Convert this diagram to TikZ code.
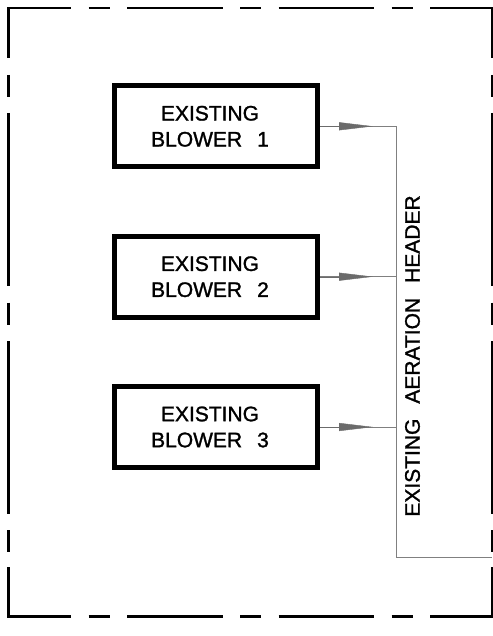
\documentclass[tikz,border=0pt]{standalone}
\usepackage{fontspec}
\newfontfamily\cadfont[FakeBold=1.3]{Liberation Sans}
\usetikzlibrary{arrows.meta}
\begin{document}
\begin{tikzpicture}[x=1pt,y=-1pt,
  frame/.style={line width=2.5pt,black},
  blower/.style={draw,line width=5pt,minimum width=202.7pt,minimum height=81pt,inner sep=0pt},
  lbl/.style={font=\cadfont\fontsize{21}{26}\selectfont,align=center,inner sep=0pt},
  pipe/.style={line width=1pt,draw=black!50},
  tip/.style={-{Triangle[length=34pt,width=8pt]},draw=black!58,fill=black!58}]
\useasboundingbox (0,0) rectangle (492,636);
% dashed frame: corners
\draw[frame] (8.3,58) -- (8.3,7.8) -- (71,7.8);
\draw[frame] (430,7.8) -- (491.8,7.8) -- (491.8,58);
\draw[frame] (8.3,567) -- (8.3,616.7) -- (71,616.7);
\draw[frame] (430,616.7) -- (491.8,616.7) -- (491.8,567);
% dashed frame: middle dashes
\foreach \yy in {7.8,616.7}
  \foreach \a/\b in {88.5/109.5,127/222.5,240/261,278.5/374,391.5/412.5}
    \draw[frame] (\a,\yy) -- (\b,\yy);
\foreach \xx in {8.3,491.8}
  \foreach \a/\b in {75/97,113/286,302.5/324.5,341/514,530/552}
    \draw[frame] (\xx,\a) -- (\xx,\b);
% blowers
\node[blower] (b1) at (216.2,126.3) {};
\node[blower] (b2) at (216.2,276.7) {};
\node[blower] (b3) at (216.2,427) {};
\node[lbl] (l1) at (210,126.3) {EXISTING\\BLOWER\hspace{15pt}1};
\node[lbl] (l2) at (210,276.7) {EXISTING\\BLOWER\hspace{15pt}2};
\node[lbl] (l3) at (210,427) {EXISTING\\BLOWER\hspace{15pt}3};
% header
\coordinate (h1) at (396.5,126.3);
\coordinate (h2) at (396.5,276.7);
\coordinate (h3) at (396.5,427);
\coordinate (hb) at (396.5,557.7);
\coordinate (he) at (492,557.7);
\coordinate (t1) at (373,126.3);
\coordinate (t2) at (373,276.7);
\coordinate (t3) at (373,427);
\draw[pipe] (h1) -- (hb) -- (he);
\foreach \i in {1,2,3}{
  \draw[pipe] (b\i.east) -- (t\i);
  \draw[pipe] (t\i) -- (h\i);
  \path[tip] (b\i.east) -- (t\i);
}
\node[lbl,rotate=90] (hdr) at (412.5,356) {EXISTING\hspace{15pt}AERATION\hspace{15pt}HEADER};
\end{tikzpicture}
\end{document}
